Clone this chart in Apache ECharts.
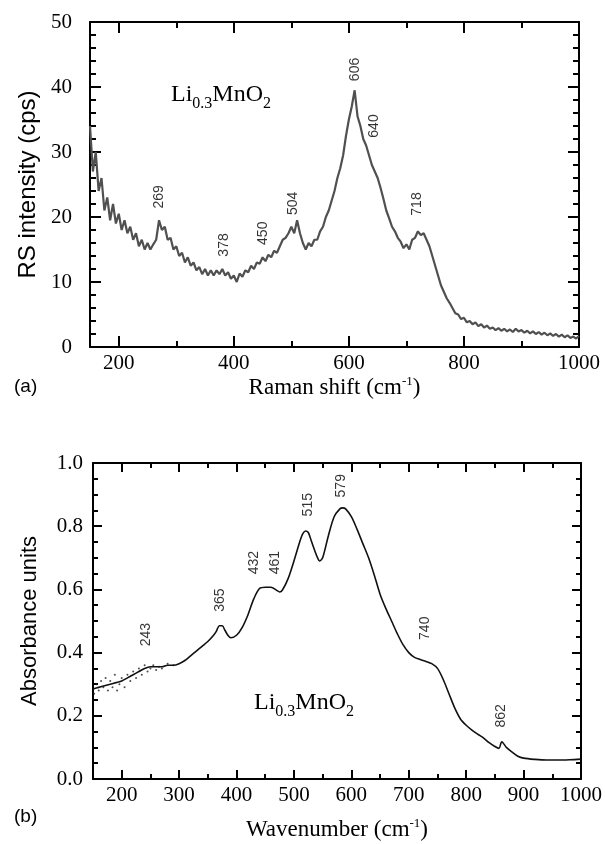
<!DOCTYPE html>
<html>
<head>
<meta charset="utf-8">
<script src="https://cdn.jsdelivr.net/npm/echarts@6/dist/echarts.min.js"></script>
<style>
html,body{margin:0;padding:0;background:#fff;}
#chart{width:605px;height:844px;}
</style>
</head>
<body>
<div id="chart"></div>
<script>
// ---- Panel (a): Raman spectrum, sampled every 5 cm-1 from 150 ----
const ramanStart = 150;
const ramanStep = 5;
const ramanY = [
  34, 27, 30, 24, 26, 21, 23, 19.5, 22, 19,
  20.5, 18, 19.5, 17.5, 18.5, 16.5, 17.5, 15.5, 16.5, 15,
  16, 15, 15.8, 16.5, 19.5, 18, 18.5, 16.5, 16.8, 15,
  15.5, 14, 14.5, 13, 13.8, 12.5, 13, 11.8, 12.3, 11.2,
  12, 11, 11.8, 11, 11.8, 11.2, 12, 11, 11.5, 10.5,
  11, 10, 11.3, 10.8, 11.8, 11.5, 12.5, 12, 13, 12.8,
  13.8, 13.2, 14.2, 13.8, 14.8, 14.5, 15.5, 16.5, 16.8, 17.5,
  18.5, 17.5, 19.5, 17.5, 16, 15, 16, 15.5, 16.5, 16.5,
  17.8, 18.5, 20, 21, 22.5, 24, 26, 27.5, 29.5, 32.5,
  35, 37, 39.5, 35.5, 34, 32, 31, 29.5, 28, 27,
  26, 24.5, 22.8, 21, 19.8, 18.5, 17.8, 16.8, 16.2, 15.2,
  15.8, 15, 16.5, 16.8, 17.8, 17.2, 17.5, 16.5, 15.5, 14,
  12.5, 11, 9.5, 8.5, 7.5, 6.8, 6, 5.2, 5, 4.3,
  4.5, 3.8, 4, 3.5, 3.8, 3.2, 3.5, 3, 3.3, 2.8,
  3, 2.6, 2.9, 2.5, 2.8, 2.4, 2.7, 2.3, 2.8, 2.4,
  2.6, 2.2, 2.5, 2.1, 2.4, 2, 2.3, 1.9, 2.2, 1.8,
  2.1, 1.7, 2, 1.6, 1.9, 1.5, 1.8, 1.4, 1.6, 1.3,
  1.7
];
const ramanPeakLabels = ['269', '378', '450', '504', '606', '640', '718'];
const ramanPeakX = [270, 383, 451, 503, 611, 644, 718];
const ramanPeakY = [23.1, 15.7, 17.5, 22.1, 42.7, 34, 22];
const ramanXMajor = [200, 400, 600, 800, 1000];
const ramanXMinor = [300, 500, 700, 900];

// ---- Panel (b): absorbance spectrum ----
const absX = [150,160,170,180,190,200,210,220,230,240,250,260,270,280,290,300,310,320,330,340,350,360,365,370,375,380,385,390,400,410,420,430,440,450,460,470,475,480,490,500,510,515,520,525,530,540,545,550,560,570,580,585,590,600,610,620,630,640,650,660,670,680,690,700,710,720,730,740,750,760,770,780,790,800,810,820,830,840,850,857,862,870,880,890,900,920,940,960,980,1000];
const absY = [0.285,0.29,0.295,0.30,0.305,0.31,0.32,0.33,0.34,0.35,0.355,0.355,0.355,0.36,0.36,0.365,0.375,0.39,0.405,0.42,0.435,0.455,0.468,0.485,0.485,0.47,0.455,0.447,0.455,0.48,0.52,0.57,0.603,0.607,0.607,0.597,0.592,0.598,0.635,0.69,0.75,0.775,0.785,0.78,0.755,0.705,0.69,0.70,0.77,0.83,0.855,0.858,0.855,0.83,0.79,0.745,0.70,0.645,0.585,0.54,0.50,0.46,0.425,0.40,0.385,0.378,0.372,0.365,0.35,0.315,0.27,0.225,0.19,0.17,0.155,0.142,0.13,0.115,0.103,0.097,0.118,0.10,0.085,0.072,0.066,0.062,0.06,0.06,0.061,0.063];
const absNoiseX = [152,156,160,164,168,172,176,180,184,188,192,196,200,205,210,215,220,225,230,235,240,245,250,255,260,265,270,280,290];
const absNoiseY = [0.27,0.30,0.28,0.31,0.29,0.32,0.28,0.31,0.29,0.33,0.28,0.30,0.32,0.29,0.33,0.31,0.34,0.32,0.35,0.33,0.36,0.34,0.35,0.36,0.345,0.355,0.35,0.365,0.36];
const absPeakLabels = ['243', '365', '432', '461', '515', '579', '740', '862'];
const absPeakX = [243, 372, 431, 467, 525, 582, 729, 861];
const absPeakY = [0.457, 0.566, 0.685, 0.685, 0.868, 0.928, 0.477, 0.2];
const absXMajor = [200, 300, 400, 500, 600, 700, 800, 900, 1000];
const absXMinor = [250, 350, 450, 550, 650, 750, 850, 950];

const SERIF = '"Liberation Serif", "DejaVu Serif", serif';
const SANS = '"Liberation Sans", Arial, sans-serif';

const ramanData = ramanY.map((v, i) => [ramanStart + ramanStep * i, v]);
const absData = absX.map((x, i) => [x, absY[i]]);
const absNoise = absNoiseX.map((x, i) => [x, absNoiseY[i]]);
const ramanPeaks = ramanPeakLabels.map((t, i) => ({ name: t, value: [ramanPeakX[i], ramanPeakY[i]] }));
const absPeaks = absPeakLabels.map((t, i) => ({ name: t, value: [absPeakX[i], absPeakY[i]] }));

function xAxes(grid, major, minor, majLen, minLen, nameText, gap) {
  const base = { type: 'value', gridIndex: grid, min: 150, max: 1000, splitLine: { show: false } };
  const line = { show: true, lineStyle: { color: '#000', width: 2 } };
  return [
    Object.assign({}, base, {
      position: 'bottom', axisLine: line,
      axisTick: { show: true, inside: true, length: majLen, customValues: major, lineStyle: { color: '#000', width: 2 } },
      axisLabel: { show: true, customValues: major, margin: 6, color: '#000', fontFamily: SERIF, fontSize: 21,
        formatter: v => String(Math.round(v)) },
      name: nameText, nameLocation: 'middle', nameGap: gap,
      nameTextStyle: { color: '#000', fontFamily: SERIF, fontSize: 23, lineHeight: 26,
        rich: { sup: { fontFamily: SERIF, fontSize: 13, lineHeight: 14, verticalAlign: 'top' } } }
    }),
    Object.assign({}, base, {
      position: 'bottom', axisLine: { show: false },
      axisTick: { show: true, inside: true, length: minLen, customValues: minor, lineStyle: { color: '#000', width: 2 } },
      axisLabel: { show: false }
    }),
    Object.assign({}, base, {
      position: 'top', axisLine: line,
      axisTick: { show: true, inside: true, length: majLen, customValues: major, lineStyle: { color: '#000', width: 2 } },
      axisLabel: { show: false }
    }),
    Object.assign({}, base, {
      position: 'top', axisLine: { show: false },
      axisTick: { show: true, inside: true, length: minLen, customValues: minor, lineStyle: { color: '#000', width: 2 } },
      axisLabel: { show: false }
    })
  ];
}

function yAxes(grid, max, interval, minorSplit, majLen, minLen, margin, fmt, nameText, gap, nameSize) {
  const base = {
    type: 'value', gridIndex: grid, min: 0, max: max, interval: interval, splitLine: { show: false },
    axisLine: { show: true, lineStyle: { color: '#000', width: 2 } },
    axisTick: { show: true, inside: true, length: majLen, lineStyle: { color: '#000', width: 2 } },
    minorTick: { show: true, splitNumber: minorSplit, length: minLen, lineStyle: { color: '#000', width: 2 } },
    minorSplitLine: { show: false }
  };
  return [
    Object.assign({}, base, {
      position: 'left',
      axisLabel: { show: true, margin: margin, color: '#000', fontFamily: SERIF, fontSize: 21, formatter: fmt },
      name: nameText, nameLocation: 'middle', nameGap: gap,
      nameTextStyle: { color: '#000', fontFamily: SANS, fontSize: nameSize }
    }),
    Object.assign({}, base, { position: 'right', axisLabel: { show: false } })
  ];
}

const chart = echarts.init(document.getElementById('chart'), null, { renderer: 'canvas' });

const peakLabel = {
  show: true, formatter: '{b}', rotate: 90, position: 'inside',
  color: '#000', fontFamily: SANS, fontSize: 14
};

const formulaStyle = (size) => ({
  text: 'Li{sub|0.3}MnO{sub|2}', fill: '#000', fontFamily: SERIF, fontSize: size, lineHeight: 34,
  rich: { sub: { fontFamily: SERIF, fontSize: Math.round(size * 0.68), lineHeight: 16, verticalAlign: 'bottom' } }
});

chart.setOption({
  backgroundColor: '#fff',
  animation: false,
  grid: [
    { left: 90, top: 22, width: 489, height: 325 },
    { left: 93, top: 463, width: 490, height: 320 }
  ],
  xAxis: [].concat(
    xAxes(0, ramanXMajor, ramanXMinor, 11, 6, 'Raman shift (cm{sup|-1})', 28),
    xAxes(1, absXMajor, absXMinor, 9, 5, 'Wavenumber (cm{sup|-1})', 38)
  ),
  yAxis: [].concat(
    yAxes(0, 50, 10, 5, 11, 6, 18, v => String(v), 'RS intensity (cps)', 48, 24),
    yAxes(1, 1, 0.2, 4, 9, 5, 10, v => v.toFixed(1), 'Absorbance units', 52, 22)
  ),
  series: [
    {
      type: 'line', xAxisIndex: 0, yAxisIndex: 0, data: ramanData, showSymbol: false,
      lineStyle: { color: '#505050', width: 2.2 }, silent: true
    },
    {
      type: 'scatter', xAxisIndex: 0, yAxisIndex: 0, data: ramanPeaks, symbolSize: 1,
      itemStyle: { color: 'rgba(0,0,0,0)' }, label: peakLabel, silent: true
    },
    {
      type: 'line', xAxisIndex: 4, yAxisIndex: 2, data: absData, showSymbol: false, smooth: 0.3,
      lineStyle: { color: '#111', width: 1.6 }, silent: true
    },
    {
      type: 'scatter', xAxisIndex: 4, yAxisIndex: 2, data: absNoise, symbolSize: 2,
      itemStyle: { color: '#222' }, silent: true
    },
    {
      type: 'scatter', xAxisIndex: 4, yAxisIndex: 2, data: absPeaks, symbolSize: 1,
      itemStyle: { color: 'rgba(0,0,0,0)' }, label: peakLabel, silent: true
    }
  ],
  graphic: [
    { type: 'text', left: 171, top: 78, style: formulaStyle(24) },
    { type: 'text', left: 254, top: 686, style: formulaStyle(24) },
    { type: 'text', left: 14, top: 377, style: { text: '(a)', fill: '#000', font: '19px ' + SANS } },
    { type: 'text', left: 14, top: 807, style: { text: '(b)', fill: '#000', font: '19px ' + SANS } }
  ]
});
</script>
</body>
</html>
